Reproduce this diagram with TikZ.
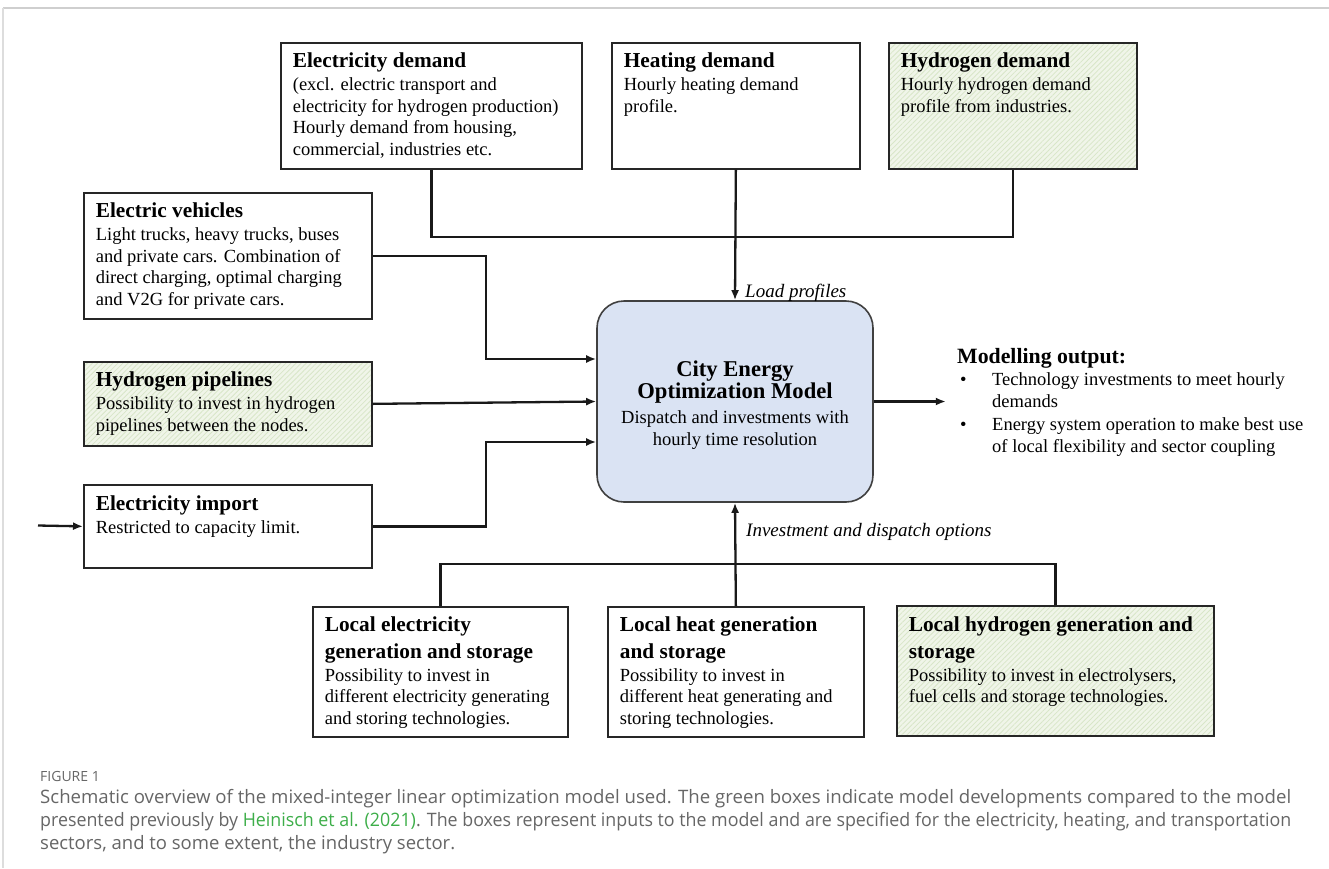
\documentclass[tikz,border=0pt]{standalone}
\usepackage{fontspec}
\setmainfont{Liberation Serif}
\newfontfamily\capfont{Open Sans}
\usetikzlibrary{arrows.meta,patterns.meta,calc}
\definecolor{gfill}{HTML}{F0F5E9}
\definecolor{gline}{HTML}{D8E6C8}
\definecolor{mfill}{HTML}{DAE3F3}
\definecolor{mline}{HTML}{404040}
\definecolor{capgray}{HTML}{666666}
\definecolor{linkgreen}{HTML}{3DAE49}
\definecolor{framegray}{HTML}{CFCFCF}
\newcommand{\ttl}{\fontsize{21.3}{26.7}\selectfont\bfseries}
\newcommand{\bdy}{\fontsize{18.5}{21.7}\selectfont}
\newcommand{\boxtxt}[5]{\begin{minipage}[c][#2pt][t]{\dimexpr#1pt-24pt\relax}\raggedright\rule{0pt}{#3pt}{\ttl #4\par}\vspace{1.3pt}{\bdy #5\par}\end{minipage}}
\tikzset{
  box/.style={draw=black!85, line width=1.7pt, fill=white, inner xsep=12pt, inner ysep=0pt, anchor=north west},
  gbox/.style={box, fill=none, preaction={fill=gfill}, preaction={pattern={Lines[angle=45,distance=3.6pt,line width=0.8pt]}, pattern color=gline}},
  modelbox/.style={draw=mline, line width=1.6pt, fill=mfill, rounded corners=27pt, minimum width=276pt, minimum height=201pt, inner sep=0pt},
  conn/.style={line width=2.3pt, draw=black!90},
  arr/.style={conn, -{Latex[length=10pt,width=8pt]}},
  lbl/.style={font=\fontsize{19}{22}\selectfont\itshape, anchor=west, inner sep=0pt}
}
\begin{document}
\begin{tikzpicture}[x=1pt,y=-1pt]
\useasboundingbox (0,0) rectangle (1329,868);
\fill[white] (0,0) rectangle (1329,868);
\draw[framegray, line width=2pt] (3,7.5) -- (1329,7.5);
\draw[framegray!70, line width=1.5pt] (3,7.5) -- (3,868);

% top boxes
\node[box] (eldem) at (280,42) {\boxtxt{301}{126}{24.7}{Electricity demand}{(excl. electric transport and\\ electricity for hydrogen production)\\ Hourly demand from housing,\\ commercial, industries etc.}};
\node[box] (heatdem) at (611,42) {\boxtxt{248}{126}{24.7}{Heating demand}{Hourly heating demand\\ profile.}};
\node[gbox] (h2dem) at (888,42) {\boxtxt{248}{126}{24.7}{Hydrogen demand}{Hourly hydrogen demand\\ profile from industries.}};

% left boxes
\node[box] (ev) at (83,192) {\boxtxt{288}{126}{24.7}{Electric vehicles}{Light trucks, heavy trucks, buses\\ and private cars. Combination of\\ direct charging, optimal charging\\ and V2G for private cars.}};
\node[gbox] (pipe) at (83,361) {\boxtxt{288}{84}{25}{Hydrogen pipelines}{Possibility to invest in hydrogen\\ pipelines between the nodes.}};
\node[box] (imp) at (83,484) {\boxtxt{288}{83}{26}{Electricity import}{Restricted to capacity limit.}};

% model
\node[modelbox] (model) at (735,401.5) {};
\node[align=center, inner sep=0pt, font=\fontsize{18.5}{22}\selectfont] (modeltxt) at ([yshift=-4pt]model.center) {{\fontsize{22.6}{22}\selectfont\bfseries City Energy}\\{\fontsize{22.6}{22}\selectfont\bfseries Optimization Model}\\[3pt]Dispatch and investments with\\hourly time resolution};

% bottom boxes
\node[box] (locel) at (312,606) {\boxtxt{255}{130}{24.5}{Local electricity\\ generation and storage}{Possibility to invest in\\ different electricity generating\\ and storing technologies.}};
\node[box] (locheat) at (607,606) {\boxtxt{256}{130}{24.5}{Local heat generation\\ and storage}{Possibility to invest in\\ different heat generating and\\ storing technologies.}};
\node[gbox] (loch2) at (896,605) {\boxtxt{317}{130}{25.5}{Local hydrogen generation and\\ storage}{Possibility to invest in electrolysers,\\ fuel cells and storage technologies.}};

% demand connectors
\draw[conn] (eldem.south) -- ++(0,67) -| (h2dem.south);
\draw[arr] (heatdem.south) -- (model.north);
\node[lbl] (lp) at (745,293) {Load profiles};

% left connectors
\draw[arr] (ev.east) -- ++(113,0) |- ([yshift=42.5pt]model.west);
\draw[arr] (pipe.east) -- (model.west);
\draw[arr] (imp.east) -- ++(113,0) |- ([yshift=-40.5pt]model.west);
\coordinate (src) at (38,525.5);
\draw[arr] (src) -- (imp.west);

% bottom connectors
\draw[conn] (locel.north) -- ++(0,-42) -| (loch2.north);
\draw[arr] (locheat.north) -- (model.south);
\node[lbl] (ido) at (746,532) {Investment and dispatch options};

% output
\draw[arr] (model.east) -- ++(72,0) coordinate (outend);
\node[anchor=north west, inner sep=0pt] (out) at (957,342) {\begin{minipage}[t]{360pt}\raggedright\rule{0pt}{21pt}{\fontsize{21.8}{24}\selectfont\bfseries Modelling output:\par}
{\fontsize{18.5}{22.3}\selectfont\hangindent=35pt\hangafter=0\leavevmode\llap{\makebox[32pt][l]{\textbullet}}Technology investments to meet hourly\newline demands\par
\hangindent=35pt\hangafter=0\leavevmode\llap{\makebox[32pt][l]{\textbullet}}Energy system operation to make best use\newline of local flexibility and sector coupling\par}\end{minipage}};

% caption
\node[anchor=west, inner sep=0pt, text=capgray, font=\capfont\fontsize{14}{16}\selectfont] (fig) at (40,776) {FIGURE 1};
\node[anchor=north west, inner sep=0pt, align=left, text=capgray, font=\capfont\fontsize{18.5}{23}\selectfont] (cap) at (40,789) {\resizebox{1251pt}{\height}{Schematic overview of the mixed-integer linear optimization model used. The green boxes indicate model developments compared to the model}\\ \resizebox{1251pt}{\height}{presented previously by \textcolor{linkgreen}{Heinisch et al. (2021)}. The boxes represent inputs to the model and are specified for the electricity, heating, and transportation}\\ sectors, and to some extent, the industry sector.};
\end{tikzpicture}
\end{document}
